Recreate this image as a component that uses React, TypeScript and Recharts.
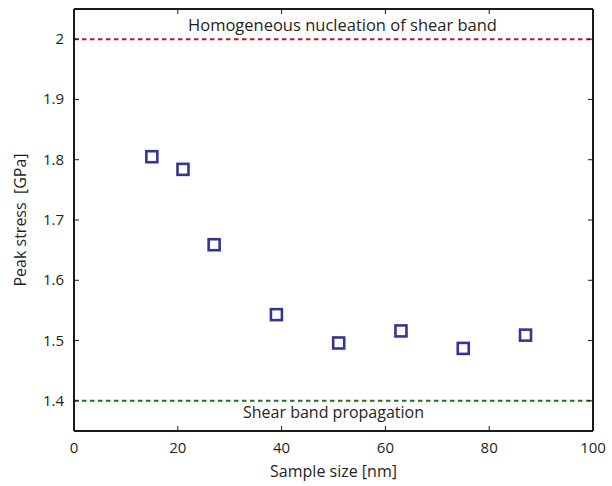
import React from "react";
import {
  ScatterChart,
  Scatter,
  XAxis,
  YAxis,
  ReferenceLine,
  Label,
} from "recharts";

const sampleSizes = [15, 21, 27, 39, 51, 63, 75, 87];
const peakStress = [1.805, 1.784, 1.659, 1.543, 1.496, 1.516, 1.487, 1.509];
const xTicks = [0, 20, 40, 60, 80, 100];
const yTicks = [1.4, 1.5, 1.6, 1.7, 1.8, 1.9, 2];
const nucleationStress = 2;
const propagationStress = 1.4;

const FONT = "'Open Sans', sans-serif";
const TEXT = "#231f20";
const AXIS = "#1a1a1a";

const data = sampleSizes.map((s, i) => ({ size: s, stress: peakStress[i] }));

function BottomTick(props: any) {
  const { x, y, payload } = props;
  return (
    <g>
      <line x1={x} y1={y} x2={x} y2={y - 5} stroke={AXIS} strokeWidth={1} />
      <text x={x} y={y + 22} textAnchor="middle" fontFamily={FONT} fontSize={15} fill={TEXT}>
        {payload.value}
      </text>
    </g>
  );
}

function TopTick(props: any) {
  const { x, y } = props;
  return <line x1={x} y1={y} x2={x} y2={y + 5} stroke={AXIS} strokeWidth={1} />;
}

function LeftTick(props: any) {
  const { x, y, payload } = props;
  return (
    <g>
      <line x1={x} y1={y} x2={x + 5} y2={y} stroke={AXIS} strokeWidth={1} />
      <text x={x - 10} y={y + 5} textAnchor="end" fontFamily={FONT} fontSize={15} fill={TEXT}>
        {payload.value}
      </text>
    </g>
  );
}

function RightTick(props: any) {
  const { x, y } = props;
  return <line x1={x} y1={y} x2={x - 5} y2={y} stroke={AXIS} strokeWidth={1} />;
}

function SquareMarker(props: any) {
  const { cx, cy } = props;
  return (
    <rect
      x={cx - 5.5}
      y={cy - 5.5}
      width={11}
      height={11}
      fill="none"
      stroke="#36368f"
      strokeWidth={2.6}
    />
  );
}

function NoMarker() {
  return <g />;
}

export default function App() {
  return (
    <div style={{ position: "absolute", left: 0, top: 0, width: 612, height: 486, background: "#fff" }}>
      <ScatterChart
        width={612}
        height={486}
        margin={{ top: 8, right: 18, left: 0, bottom: 0 }}
      >
        <XAxis
          xAxisId="bottom"
          type="number"
          dataKey="size"
          domain={[0, 100]}
          ticks={xTicks}
          height={55}
          tickSize={0}
          tickMargin={0}
          tickLine={false}
          tick={<BottomTick />}
          stroke={AXIS}
          strokeWidth={2}
        >
          <Label
            value="Sample size [nm]"
            position="insideBottom"
            offset={9}
            style={{ fontFamily: FONT, fontSize: 16, fill: TEXT }}
          />
        </XAxis>
        <XAxis
          xAxisId="top"
          orientation="top"
          type="number"
          dataKey="size"
          domain={[0, 100]}
          ticks={xTicks}
          height={1}
          tickSize={0}
          tickMargin={0}
          tickLine={false}
          tick={<TopTick />}
          stroke={AXIS}
          strokeWidth={2}
        />
        <YAxis
          yAxisId="left"
          type="number"
          dataKey="stress"
          domain={[1.35, 2.05]}
          ticks={yTicks}
          width={74}
          tickSize={0}
          tickMargin={0}
          tickLine={false}
          tick={<LeftTick />}
          stroke={AXIS}
          strokeWidth={2}
        >
          <Label
            value={"Peak stress\u00a0\u00a0[GPa]"}
            angle={-90}
            position="insideLeft"
            offset={20}
            style={{ fontFamily: FONT, fontSize: 16, fill: TEXT, textAnchor: "middle" }}
          />
        </YAxis>
        <YAxis
          yAxisId="right"
          orientation="right"
          type="number"
          dataKey="stress"
          domain={[1.35, 2.05]}
          ticks={yTicks}
          width={1}
          tickSize={0}
          tickMargin={0}
          tickLine={false}
          tick={<RightTick />}
          stroke={AXIS}
          strokeWidth={2}
        />
        <ReferenceLine
          xAxisId="bottom"
          yAxisId="left"
          y={nucleationStress}
          stroke="#c8102e"
          strokeWidth={2}
          strokeDasharray="4.5 3.5"
        >
          <Label
            value="Homogeneous nucleation of shear band"
            position="top"
            offset={8}
            dx={9}
            style={{ fontFamily: FONT, fontSize: 16.5, fill: TEXT }}
          />
        </ReferenceLine>
        <ReferenceLine
          xAxisId="bottom"
          yAxisId="left"
          y={propagationStress}
          stroke="#2f6b2a"
          strokeWidth={2}
          strokeDasharray="4.5 3.5"
        >
          <Label
            value="Shear band propagation"
            position="bottom"
            offset={6}
            style={{ fontFamily: FONT, fontSize: 16, fill: TEXT }}
          />
        </ReferenceLine>
        <Scatter
          xAxisId="top"
          yAxisId="right"
          data={data}
          shape={<NoMarker />}
          isAnimationActive={false}
        />
        <Scatter
          xAxisId="bottom"
          yAxisId="left"
          data={data}
          shape={<SquareMarker />}
          isAnimationActive={false}
        />
      </ScatterChart>
    </div>
  );
}
